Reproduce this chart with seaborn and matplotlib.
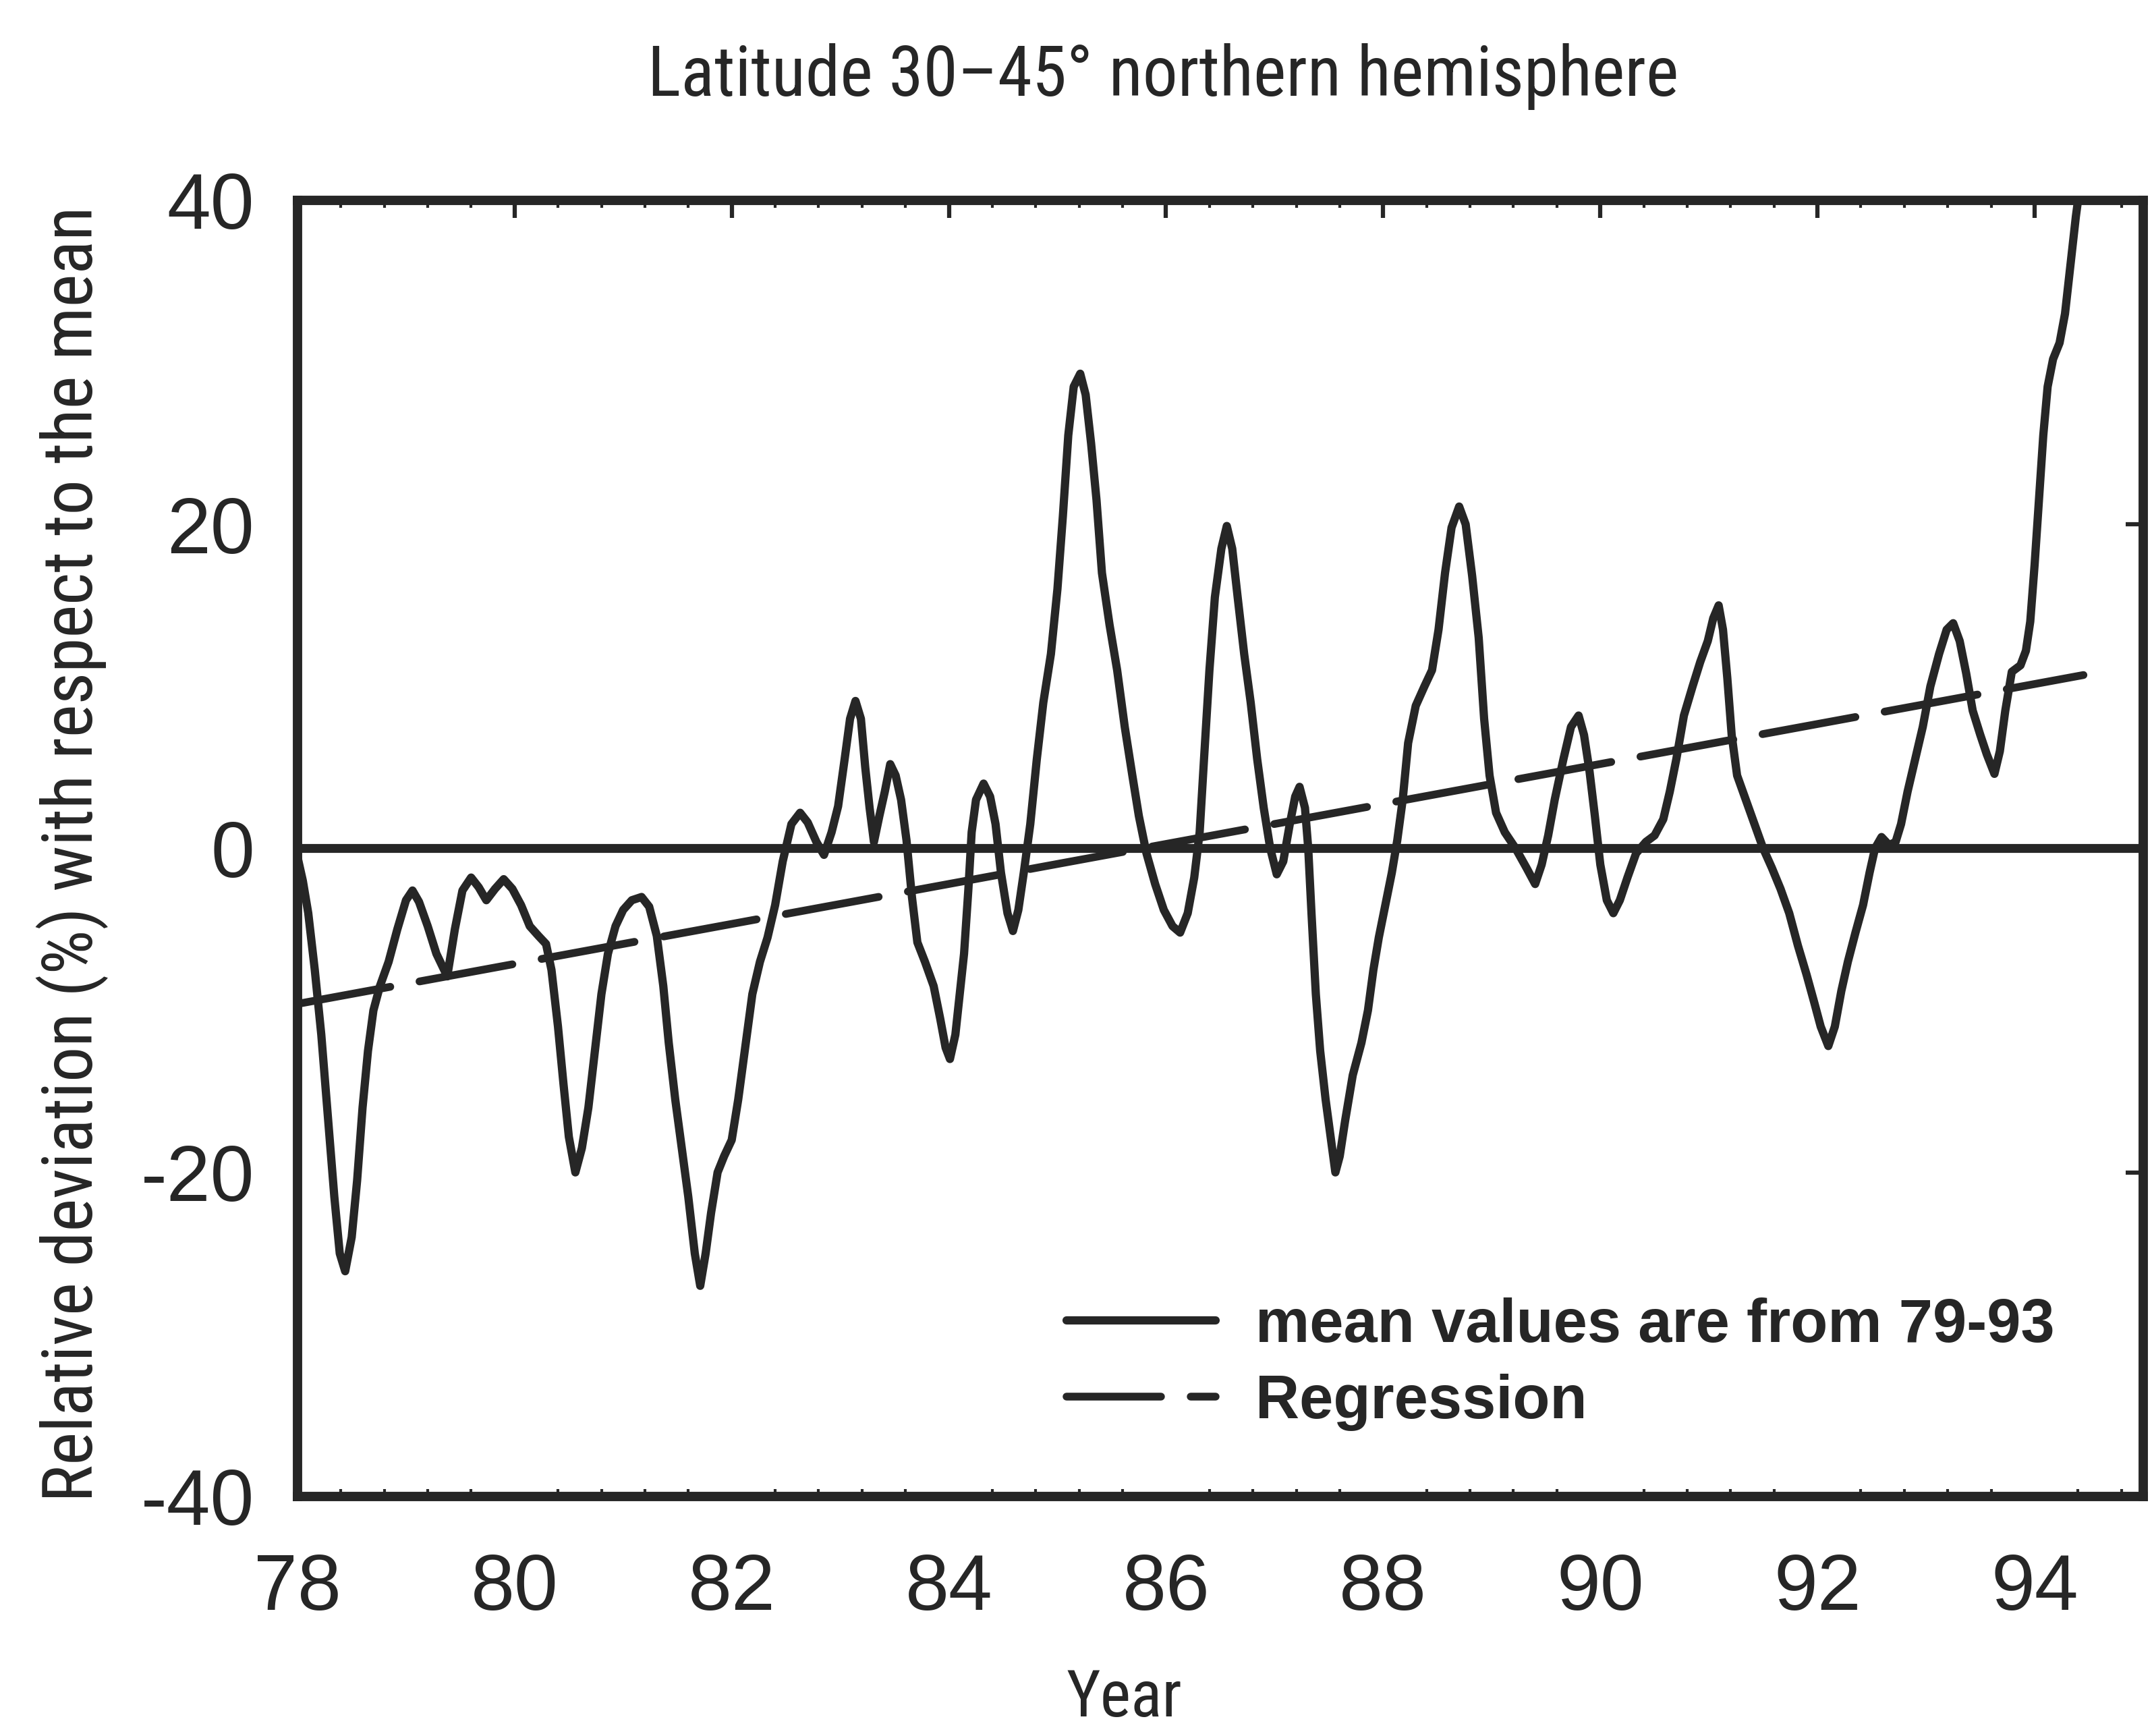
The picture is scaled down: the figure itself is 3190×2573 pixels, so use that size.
import matplotlib
matplotlib.use("Agg")
import matplotlib.pyplot as plt
from matplotlib import font_manager as fm
from matplotlib.ticker import MultipleLocator
import numpy as np
import pandas as pd
import seaborn as sns

# Relative deviation of the 30-45 N series (year, percent)
years = [
    78.00, 78.05, 78.10, 78.16, 78.22, 78.28, 78.34, 78.39, 78.44, 78.50,
    78.55, 78.60, 78.65, 78.70, 78.76, 78.84, 78.92, 79.00, 79.06, 79.12,
    79.20, 79.28, 79.38, 79.45, 79.52, 79.60, 79.67, 79.74, 79.82, 79.90,
    79.98, 80.06, 80.14, 80.22, 80.29, 80.34, 80.40, 80.45, 80.50, 80.56,
    80.62, 80.68, 80.74, 80.80, 80.86, 80.93, 81.00, 81.08, 81.17, 81.24,
    81.31, 81.37, 81.42, 81.48, 81.54, 81.60, 81.66, 81.71, 81.76, 81.81,
    81.87, 81.93, 82.00, 82.06, 82.12, 82.19, 82.26, 82.33, 82.40, 82.47,
    82.55, 82.63, 82.70, 82.78, 82.85, 82.92, 82.98, 83.04, 83.09, 83.14,
    83.19, 83.23, 83.27, 83.31, 83.36, 83.41, 83.46, 83.51, 83.56, 83.61,
    83.66, 83.71, 83.78, 83.86, 83.92, 83.97, 84.01, 84.06, 84.10, 84.14,
    84.18, 84.21, 84.25, 84.32, 84.38, 84.43, 84.48, 84.54, 84.59, 84.64,
    84.69, 84.75, 84.81, 84.87, 84.94, 85.00, 85.05, 85.10, 85.15, 85.21,
    85.26, 85.31, 85.36, 85.41, 85.48, 85.55, 85.62, 85.69, 85.75, 85.82,
    85.90, 85.98, 86.06, 86.13, 86.20, 86.26, 86.31, 86.35, 86.40, 86.45,
    86.51, 86.56, 86.61, 86.66, 86.72, 86.78, 86.84, 86.90, 86.96, 87.02,
    87.08, 87.14, 87.19, 87.23, 87.28, 87.31, 87.34, 87.38, 87.42, 87.47,
    87.52, 87.56, 87.60, 87.65, 87.72, 87.80, 87.86, 87.91, 87.96, 88.02,
    88.08, 88.13, 88.18, 88.23, 88.30, 88.38, 88.45, 88.51, 88.57, 88.63,
    88.70, 88.76, 88.82, 88.88, 88.93, 88.98, 89.04, 89.12, 89.22, 89.32,
    89.40, 89.46, 89.52, 89.58, 89.66, 89.73, 89.80, 89.85, 89.90, 89.95,
    90.00, 90.06, 90.12, 90.18, 90.25, 90.33, 90.42, 90.50, 90.58, 90.64,
    90.70, 90.77, 90.85, 90.92, 90.99, 91.04, 91.09, 91.13, 91.17, 91.21,
    91.26, 91.34, 91.42, 91.50, 91.58, 91.66, 91.74, 91.82, 91.90, 91.97,
    92.03, 92.10, 92.16, 92.22, 92.28, 92.35, 92.42, 92.48, 92.53, 92.59,
    92.66, 92.72, 92.77, 92.83, 92.90, 92.97, 93.04, 93.12, 93.19, 93.25,
    93.31, 93.37, 93.43, 93.50, 93.56, 93.63, 93.68, 93.73, 93.79, 93.87,
    93.92, 93.96, 94.00, 94.04, 94.08, 94.12, 94.17, 94.23, 94.28, 94.33,
    94.38, 94.42,
]
deviation = [
    -0.5, -2.0, -4.0, -7.5, -11.5, -16.5, -21.5, -25.0, -26.1, -24.0,
    -20.5, -16.0, -12.5, -10.0, -8.5, -7.0, -5.0, -3.2, -2.6, -3.3,
    -4.8, -6.5, -7.9, -5.0, -2.6, -1.8, -2.4, -3.2, -2.5, -1.9,
    -2.5, -3.5, -4.8, -5.4, -5.9, -7.5, -11.0, -14.5, -17.8, -20.0,
    -18.5, -16.0, -12.5, -9.0, -6.5, -4.8, -3.8, -3.2, -3.0, -3.6,
    -5.4, -8.5, -12.0, -15.5, -18.5, -21.5, -25.0, -27.0, -25.0, -22.5,
    -20.0, -19.0, -18.0, -15.5, -12.5, -9.0, -7.0, -5.5, -3.5, -0.8,
    1.5, 2.2, 1.6, 0.4, -0.4, 1.0, 2.6, 5.5, 8.0, 9.1,
    8.0, 5.0, 2.5, 0.4, 2.0, 3.5, 5.2, 4.5, 3.0, 0.5,
    -3.0, -5.8, -7.0, -8.5, -10.5, -12.3, -13.0, -11.5, -9.0, -6.5,
    -2.5, 1.0, 3.0, 4.0, 3.2, 1.5, -1.5, -4.0, -5.1, -3.8,
    -1.5, 1.5, 5.5, 9.0, 12.0, 16.0, 20.5, 25.5, 28.5, 29.3,
    28.0, 25.0, 21.5, 17.0, 13.8, 11.0, 7.5, 4.5, 2.0, -0.3,
    -2.2, -3.8, -4.8, -5.2, -4.0, -1.8, 1.0, 5.5, 11.0, 15.5,
    18.5, 19.9, 18.5, 15.5, 12.0, 9.0, 5.5, 2.5, 0.0, -1.6,
    -0.8, 1.5, 3.2, 3.8, 2.5, 0.0, -4.0, -9.0, -12.5, -15.5,
    -18.0, -20.0, -19.0, -16.8, -14.0, -12.0, -10.0, -7.5, -5.5, -3.5,
    -1.5, 0.5, 3.0, 6.5, 8.8, 10.0, 11.0, 13.5, 17.0, 19.8,
    21.1, 20.0, 16.8, 13.0, 8.0, 4.5, 2.2, 1.0, 0.0, -1.2,
    -2.2, -1.0, 0.8, 3.0, 5.5, 7.5, 8.2, 7.0, 4.8, 2.0,
    -1.0, -3.2, -4.0, -3.2, -1.8, -0.3, 0.4, 0.8, 1.8, 3.5,
    5.5, 8.2, 10.0, 11.5, 12.8, 14.2, 15.0, 13.5, 10.5, 7.0,
    4.5, 3.0, 1.5, 0.0, -1.2, -2.5, -4.0, -6.0, -7.8, -9.5,
    -11.0, -12.2, -11.0, -8.8, -7.0, -5.2, -3.5, -1.5, 0.0, 0.7,
    0.2, 0.4, 1.5, 3.5, 5.5, 7.5, 10.0, 12.0, 13.5, 13.9,
    12.8, 10.8, 8.5, 7.0, 5.8, 4.6, 6.0, 8.5, 10.9, 11.3,
    12.2, 14.0, 17.5, 21.5, 25.5, 28.5, 30.2, 31.2, 33.0, 36.0,
    39.0, 41.0,
]

# Linear trend line (end points)
regression_years = [78.0, 94.45]
regression_values = [-9.6, 10.7]

x_ticks = [78, 80, 82, 84, 86, 88, 90, 92, 94]
y_ticks = [-40, -20, 0, 20, 40]

title_text = "Latitude 30\u201345\u00b0 northern hemisphere"
ylabel_text = "Relative deviation (%) with respect to the mean"
xlabel_text = "Year"
series_label = "mean values are from 79-93"
regression_label = "Regression"

INK = "#262626"

sns.set_theme(style="white")

# Pick a narrow sans face for the title and axis labels, if one is installed
fonts = fm.fontManager.ttflist
names = {f.name for f in fonts}
narrow_choice = None
for cand in ["Liberation Sans Narrow", "Arial Narrow", "Roboto Condensed",
             "Open Sans Condensed", "Noto Sans Condensed", "DejaVu Sans Condensed"]:
    if cand in names:
        narrow_choice = (cand, "normal")
        break
if narrow_choice is None:
    for f in fonts:
        if f.stretch in ("condensed", "semi-condensed", "extra-condensed") \
                and f.style == "normal" and f.weight in (400, "normal", "regular"):
            narrow_choice = (f.name, f.stretch)
            break
if narrow_choice is None:
    narrow_choice = ("DejaVu Sans", "condensed")
narrow, narrow_stretch = narrow_choice
plain = "Liberation Sans" if "Liberation Sans" in names else "DejaVu Sans"

plt.rcParams.update({
    "font.family": [plain, "DejaVu Sans"],
    "axes.unicode_minus": False,
    "lines.scale_dashes": False,
    "text.color": INK,
    "axes.edgecolor": INK,
    "xtick.color": INK,
    "ytick.color": INK,
})

fig = plt.figure(figsize=(31.9, 25.73), dpi=100)
ax = fig.add_axes([0.1382, 0.1380, 0.9959 - 0.1382, 0.8846 - 0.1380])

series = pd.DataFrame({"year": years, "deviation": deviation})
trend = pd.DataFrame({"year": regression_years, "deviation": regression_values})

ax.axhline(0, color=INK, lw=9.5, zorder=2)
sns.lineplot(data=series, x="year", y="deviation", ax=ax, color=INK, lw=8.8,
             estimator=None, sort=False, label=series_label,
             solid_joinstyle="round", solid_capstyle="round", zorder=3)
sns.lineplot(data=trend, x="year", y="deviation", ax=ax, color=INK, lw=8.3,
             estimator=None, sort=False, label=regression_label,
             linestyle=(0, (100.8, 31.7)), dash_capstyle="round", zorder=3)

ax.set_xlim(78, 95)
ax.set_ylim(-40, 40)
ax.set_xticks(x_ticks)
ax.set_xticklabels([str(v) for v in x_ticks])
ax.set_yticks(y_ticks)
ax.set_yticklabels([str(v) for v in y_ticks])
ax.xaxis.set_minor_locator(MultipleLocator(0.4))

for side in ["left", "right", "top", "bottom"]:
    ax.spines[side].set_visible(True)
    ax.spines[side].set_linewidth(10)
    ax.spines[side].set_color(INK)

ax.tick_params(axis="both", which="major", direction="in", top=True, right=True,
               length=19, width=4.5, labelsize=84)
ax.tick_params(axis="x", which="minor", direction="in", top=True, bottom=True,
               length=8, width=3)
ax.tick_params(axis="x", which="major", pad=60)
ax.tick_params(axis="y", which="major", pad=46)
for lab in ax.get_xticklabels() + ax.get_yticklabels():
    lab.set_fontfamily([plain, "DejaVu Sans"])

label_font = dict(family=[narrow, "DejaVu Sans"], fontstretch=narrow_stretch, color=INK)
title = ax.set_title(title_text, fontsize=78, x=0.469, y=1.0765, va="baseline",
                     **label_font)
ylab = ax.set_ylabel(ylabel_text, fontsize=77, va="baseline", **label_font)
ax.yaxis.set_label_coords(-0.1111, 0.4956)
xlab = ax.set_xlabel(xlabel_text, fontsize=77, va="baseline", **label_font)
ax.xaxis.set_label_coords(0.4481, -0.170)

leg = ax.legend(loc="center left", bbox_to_anchor=(0.4167, 0.1020),
                frameon=False, borderpad=0, borderaxespad=0,
                handlelength=2.45, handletextpad=0.65, labelspacing=0.31,
                prop={"family": [plain, "DejaVu Sans"], "weight": "bold", "size": 65})
for t in leg.get_texts():
    t.set_color(INK)

# Size the narrow labels so their run length fits the intended span (pixels)
fig.canvas.draw()
renderer = fig.canvas.get_renderer()
for txt, span, vertical in [(title, 1528.0, False), (ylab, 1923.0, True),
                            (xlab, 172.0, False)]:
    bb = txt.get_window_extent(renderer)
    length = bb.height if vertical else bb.width
    factor = span / length
    factor = min(1.0, max(0.75, factor))
    txt.set_fontsize(txt.get_fontsize() * factor)

fig.savefig("out.png", dpi=100, facecolor="white")
